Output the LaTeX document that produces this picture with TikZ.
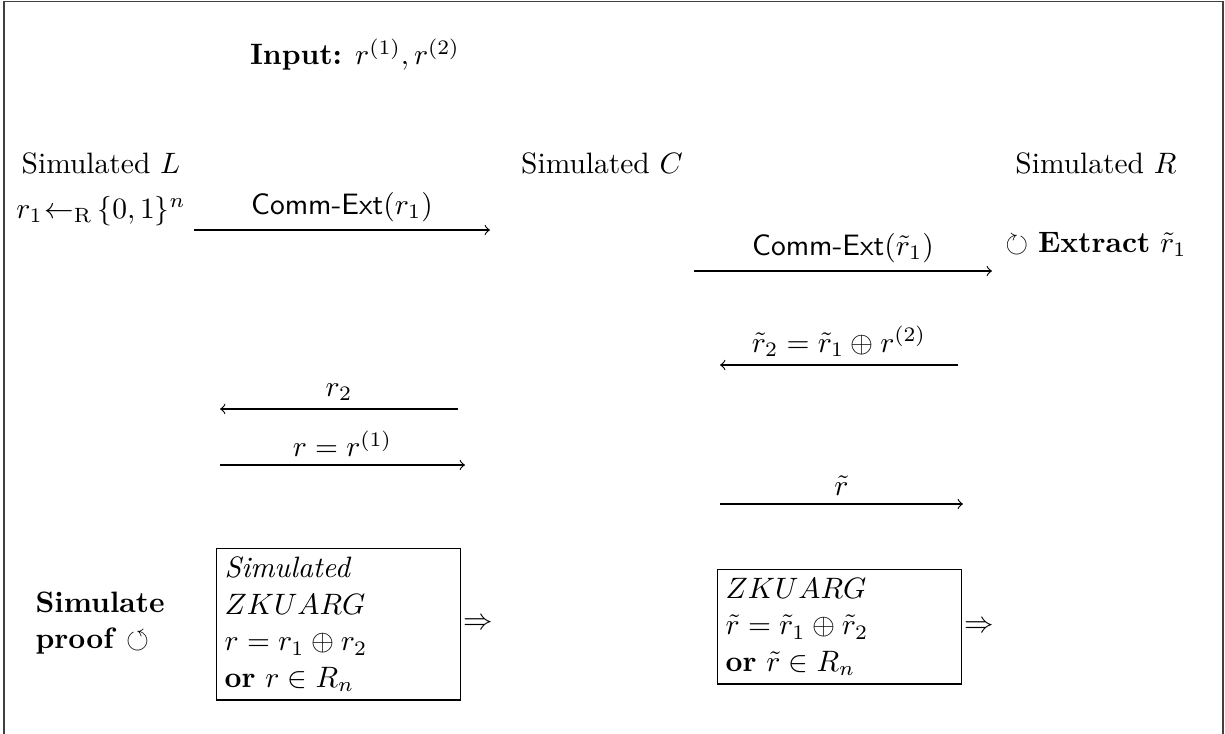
\documentclass[tikz,border=0pt]{standalone}
\usepackage{amsmath,amssymb}
\begin{document}
\begin{tikzpicture}[x=0.339pt,y=-0.339pt,
  lbl/.style={inner sep=0pt, anchor=base},
  msg/.style={line width=0.4pt, ->},
  lab/.style={above, inner sep=2.6pt},
  zkbox/.style={draw, line width=0.5pt, anchor=north west, align=left,
    text width=77.2pt, inner xsep=2.7pt, inner ysep=2.8pt,
    font=\fontsize{10}{12.4}\selectfont},
  frame/.style={line width=0.5pt, black!75}]
\useasboundingbox (0,0) rectangle (1225,734);
\begin{scope}
\clip (0,0) rectangle (1225,734);
\draw[frame] (4,760) -- (4,1.5) -- (1223,1.5) -- (1223,760);
\end{scope}
% headers
\node[lbl] (inp) at (355,65) {\textbf{Input:} $r^{(1)}, r^{(2)}$};
\node[lbl] (simL) at (101,173) {Simulated $L$};
\node[lbl] (simC) at (602,173) {Simulated $C$};
\node[lbl] (simR) at (1096,173) {Simulated $R$};
\node[lbl] (r1) at (101,218) {$r_1\mkern1mu{\leftarrow_{\mathrm{R}}}\mkern3mu\{0,1\}^n$};
\node[lbl] (ext) at (1096,252) {$\circlearrowright$ \textbf{Extract} $\tilde r_1$};
% arrows
\coordinate (a1s) at (194,230); \coordinate (a1e) at (490,230);
\draw[msg] (a1s) -- node[lab] (l1) {\textsf{Comm-Ext}$(r_1)$} (a1e);
\coordinate (a2s) at (694,271); \coordinate (a2e) at (992,271);
\draw[msg] (a2s) -- node[lab] (l2) {\textsf{Comm-Ext}$(\tilde r_1)$} (a2e);
\coordinate (a3s) at (958,365); \coordinate (a3e) at (720,365);
\draw[msg] (a3s) -- node[lab] (l3) {$\tilde r_2=\tilde r_1\oplus r^{(2)}$} (a3e);
\coordinate (a4s) at (720,504); \coordinate (a4e) at (963,504);
\draw[msg] (a4s) -- node[lab] (l4) {$\tilde r$} (a4e);
\coordinate (a5s) at (458,409); \coordinate (a5e) at (220,409);
\draw[msg] (a5s) -- node[lab] (l5) {$r_2$} (a5e);
\coordinate (a6s) at (220,465); \coordinate (a6e) at (465,465);
\draw[msg] (a6s) -- node[lab] (l6) {$r=r^{(1)}$} (a6e);
% bottom
\node[anchor=west, align=left, inner sep=0pt, font=\fontsize{10}{12.4}\selectfont] (simp) at (35,623)
  {\textbf{Simulate}\\ \textbf{proof} $\circlearrowleft$};
\node[zkbox] (box1) at (216,548)
  {\textit{Simulated}\\ $ZKUARG$\\ $r=r_1\oplus r_2$\\ \textbf{or} $r\in R_n$};
\node[anchor=west, inner sep=0.6pt] (imp1) at (box1.east) {$\Rightarrow$};
\node[zkbox] (box2) at (717,569)
  {$ZKUARG$\\ $\tilde r=\tilde r_1\oplus\tilde r_2$\\ \textbf{or} $\tilde r\in R_n$};
\node[anchor=west, inner sep=0.6pt] (imp2) at (box2.east) {$\Rightarrow$};
\end{tikzpicture}
\end{document}
